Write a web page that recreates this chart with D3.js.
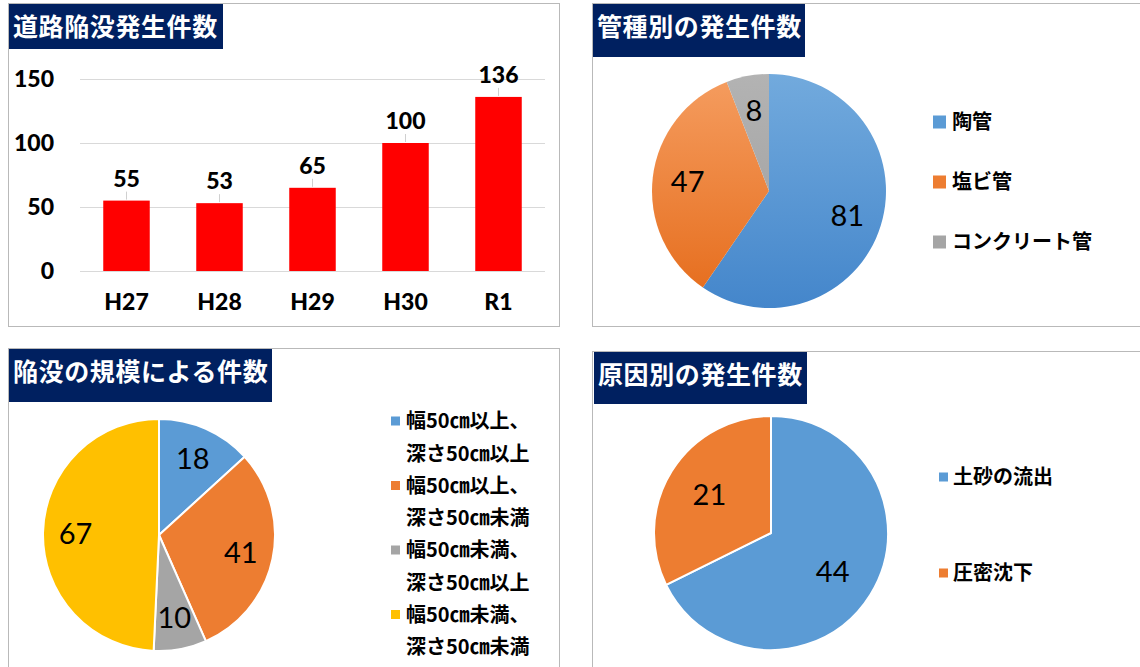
<!DOCTYPE html>
<html>
<head>
<meta charset="utf-8">
<script src="https://cdn.jsdelivr.net/npm/d3@7"></script>
<style>
body { margin: 0; background: #fff; }
svg { display: block; }
</style>
</head>
<body>
<div id="chart-area"></div>
<script>
// data
const years = ["H27", "H28", "H29", "H30", "R1"];
const yearCounts = [55, 53, 65, 100, 136];
const yTickValues = [0, 50, 100, 150];

const pipeLabels = ["陶管", "塩ビ管", "コンクリート管"];
const pipeCounts = [81, 47, 8];

const sizeLabels = [
	["幅50㎝以上、", "深さ50㎝以上"],
	["幅50㎝以上、", "深さ50㎝未満"],
	["幅50㎝未満、", "深さ50㎝以上"],
	["幅50㎝未満、", "深さ50㎝未満"]
];
const sizeCounts = [18, 41, 10, 67];

const causeLabels = ["土砂の流出", "圧密沈下"];
const causeCounts = [44, 21];

const titles = ["道路陥没発生件数", "管種別の発生件数", "陥没の規模による件数", "原因別の発生件数"];

const BLUE = "#5B9BD5", ORANGE = "#ED7D31", GREY = "#A5A5A5", YELLOW = "#FFC000";
const jpFont = "'Noto Sans CJK JP', 'Noto Sans', sans-serif";
const numFont = "Lato, 'Open Sans', sans-serif";

const svg = d3.select("#chart-area").append("svg")
	.attr("width", 1140)
	.attr("height", 667);

const defs = svg.append("defs");

// panels + title boxes
const panels = [
	{ x: 8, y: 3, w: 551, h: 323, tx: 9, ty: 4, tw: 214, th: 45 },
	{ x: 592, y: 3, w: 600, h: 323, tx: 593, ty: 4, tw: 212, th: 53 },
	{ x: 8, y: 348, w: 551, h: 340, tx: 9, ty: 349, tw: 263, th: 53 },
	{ x: 592, y: 351, w: 600, h: 340, tx: 594, ty: 352, tw: 213, th: 52 }
];

panels.forEach((p, i) => {
	svg.append("rect")
		.attr("x", p.x + 0.5).attr("y", p.y + 0.5)
		.attr("width", p.w).attr("height", p.h)
		.attr("fill", "#fff")
		.attr("stroke", "#b9b9b9");
	svg.append("rect")
		.attr("x", p.tx).attr("y", p.ty)
		.attr("width", p.tw).attr("height", p.th)
		.attr("fill", "#002060");
	svg.append("text")
		.attr("x", p.tx + 4)
		.attr("y", p.ty + 23)
		.attr("dy", "0.36em")
		.attr("font-family", jpFont)
		.attr("font-weight", "bold")
		.attr("font-size", "25px")
		.attr("letter-spacing", "0.6px")
		.attr("fill", "#fff")
		.text(titles[i]);
});

// bar chart
const x = d3.scaleBand()
	.domain(years)
	.range([80, 545])
	.paddingInner(0.5)
	.paddingOuter(0.25);

const y = d3.scaleLinear()
	.domain([0, 150])
	.range([271, 79]);

const yAxis = svg.append("g")
	.attr("transform", "translate(80,0)")
	.call(d3.axisLeft(y).tickValues(yTickValues).tickSize(-465).tickPadding(26));
yAxis.select(".domain").remove();
yAxis.selectAll(".tick line").attr("stroke", "#d9d9d9");
yAxis.selectAll(".tick text")
	.attr("font-family", numFont)
	.attr("font-weight", "900")
	.attr("font-size", "23px")
	.attr("fill", "#000");

const xAxis = svg.append("g")
	.attr("transform", "translate(0,271)")
	.call(d3.axisBottom(x).tickSize(0).tickPadding(23));
xAxis.select(".domain").remove();
xAxis.selectAll(".tick text")
	.attr("font-family", numFont)
	.attr("font-weight", "900")
	.attr("font-size", "23px")
	.attr("fill", "#000");

svg.selectAll(".bar")
	.data(yearCounts)
	.enter().append("rect")
	.attr("class", "bar")
	.attr("x", (d, i) => x(years[i]))
	.attr("y", d => y(d))
	.attr("width", x.bandwidth())
	.attr("height", d => y(0) - y(d))
	.attr("fill", "#FF0000");

svg.selectAll(".leader")
	.data(yearCounts)
	.enter().append("line")
	.attr("class", "leader")
	.attr("x1", (d, i) => x(years[i]) + x.bandwidth() / 2)
	.attr("x2", (d, i) => x(years[i]) + x.bandwidth() / 2)
	.attr("y1", d => y(d) - 9)
	.attr("y2", d => y(d) - 1)
	.attr("stroke", "#d0d0d0");

svg.selectAll(".bar-label")
	.data(yearCounts)
	.enter().append("text")
	.attr("class", "bar-label")
	.attr("x", (d, i) => x(years[i]) + x.bandwidth() / 2)
	.attr("y", d => y(d) - 14)
	.attr("text-anchor", "middle")
	.attr("font-family", numFont)
	.attr("font-weight", "900")
	.attr("font-size", "23px")
	.attr("fill", "#000")
	.text(d => d);

// pies
const pie = d3.pie().sort(null).value(d => d);

function drawPie(cx, cy, r, values, fills, labelFactor, stroke) {
	const g = svg.append("g").attr("transform", `translate(${cx},${cy})`);
	const arc = d3.arc().innerRadius(0).outerRadius(r);
	const labelArc = d3.arc().innerRadius(r * labelFactor).outerRadius(r * labelFactor);
	const arcs = pie(values);
	g.selectAll("path")
		.data(arcs)
		.enter().append("path")
		.attr("d", arc)
		.attr("fill", (d, i) => fills[i])
		.attr("stroke", stroke ? "#fff" : "none")
		.attr("stroke-width", stroke ? 2 : 0)
		.attr("stroke-linejoin", "round");
	g.selectAll("text")
		.data(arcs)
		.enter().append("text")
		.attr("transform", d => `translate(${labelArc.centroid(d)})`)
		.attr("text-anchor", "middle")
		.attr("dy", "0.36em")
		.attr("font-family", numFont)
		.attr("font-size", "29px")
		.attr("fill", "#000")
		.text(d => d.data);
}

// gradients for the pipe-type pie
function gradient(id, top, bottom, y1, y2) {
	const lg = defs.append("linearGradient")
		.attr("id", id)
		.attr("gradientUnits", "userSpaceOnUse")
		.attr("x1", 0).attr("x2", 0)
		.attr("y1", y1).attr("y2", y2);
	lg.append("stop").attr("offset", "0%").attr("stop-color", top);
	lg.append("stop").attr("offset", "100%").attr("stop-color", bottom);
}
gradient("gBlue", "#72aadd", "#4486cb", -117, 117);
gradient("gOrange", "#f59d60", "#e56b1a", -117, 117);
gradient("gGrey", "#b3b3b3", "#9c9c9c", -117, 117);

drawPie(769, 191, 117, pipeCounts, ["url(#gBlue)", "url(#gOrange)", "url(#gGrey)"], 0.7, false);
drawPie(159, 535, 116, sizeCounts, [BLUE, ORANGE, GREY, YELLOW], 0.72, true);
drawPie(771, 533, 117, causeCounts, [BLUE, ORANGE], 0.62, true);

// legends
function legendText(sel) {
	return sel
		.attr("font-family", jpFont)
		.attr("font-weight", "bold")
		.attr("font-size", "20px")
		.attr("fill", "#000");
}

const pipeColors = [BLUE, ORANGE, GREY];
pipeLabels.forEach((lab, i) => {
	const cy = 122 + i * 60;
	svg.append("rect")
		.attr("x", 933).attr("y", cy - 6.5)
		.attr("width", 13).attr("height", 13)
		.attr("fill", pipeColors[i]);
	legendText(svg.append("text"))
		.attr("x", 952).attr("y", cy).attr("dy", "0.36em")
		.text(lab);
});

const sizeColors = [BLUE, ORANGE, GREY, YELLOW];
sizeLabels.forEach((lines, i) => {
	const cy = 421 + i * 64.5;
	svg.append("rect")
		.attr("x", 391).attr("y", cy - 4.5)
		.attr("width", 9).attr("height", 9)
		.attr("fill", sizeColors[i]);
	lines.forEach((line, j) => {
		legendText(svg.append("text"))
			.attr("x", 406).attr("y", cy + j * 32.3).attr("dy", "0.36em")
			.text(line);
	});
});

const causeColors = [BLUE, ORANGE];
causeLabels.forEach((lab, i) => {
	const cy = 477 + i * 96;
	svg.append("rect")
		.attr("x", 939).attr("y", cy - 4.5)
		.attr("width", 9).attr("height", 9)
		.attr("fill", causeColors[i]);
	legendText(svg.append("text"))
		.attr("x", 953).attr("y", cy).attr("dy", "0.36em")
		.text(lab);
});
</script>
</body>
</html>
